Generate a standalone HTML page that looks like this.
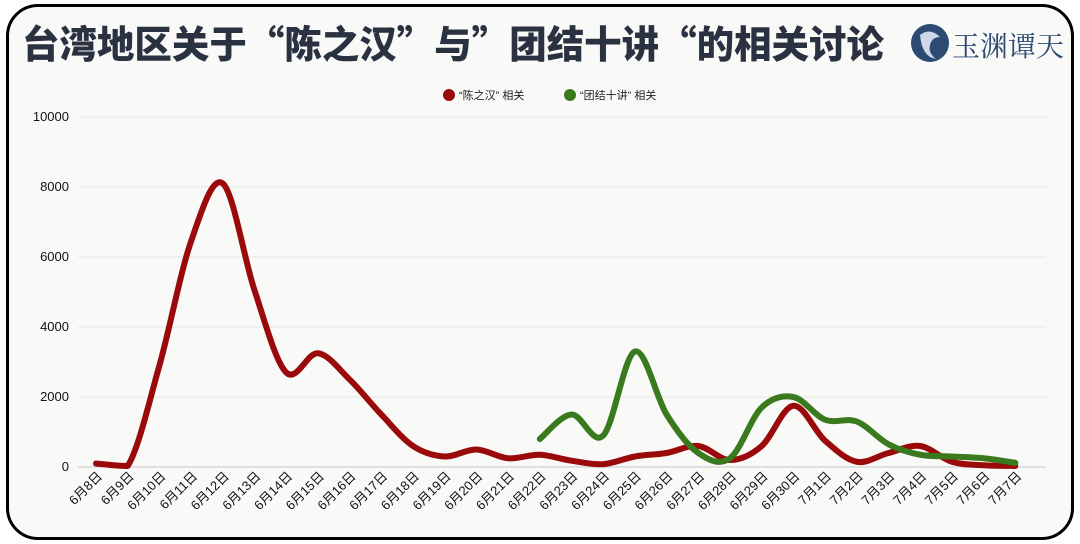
<!DOCTYPE html>
<html><head><meta charset="utf-8"><style>
html,body{margin:0;padding:0;background:#fff;}
body{width:1080px;height:544px;position:relative;overflow:hidden;font-family:"Liberation Sans","Noto Sans CJK SC",sans-serif;}
.card{position:absolute;left:6px;top:4px;width:1062px;height:530px;border:3px solid #000;border-radius:32px;background:#f9f9f7;}
</style></head><body>
<div class="card"></div>
<svg width="1080" height="544" style="position:absolute;left:0;top:0" id="s">
<text x="22" y="58" font-size="38" font-weight="900" fill="#2a3140" font-family="Noto Sans CJK SC,sans-serif" textLength="862" lengthAdjust="spacingAndGlyphs">台湾地区关于“陈之汉”与”团结十讲“的相关讨论</text>
<circle cx="930" cy="43" r="19" fill="#2d4a73"/>
<path d="M920 35 q10 -8 20 2 q-8 0 -10 8 q-2 8 6 14 q-14 -2 -16 -24z" fill="#cfd8e6"/>
<text x="952" y="56" font-size="28" fill="#2d4a73" font-family="Noto Serif CJK SC,serif">玉渊谭天</text>
<circle cx="449" cy="95" r="6" fill="#9a0a0a"/>
<text x="459" y="99" font-size="11" fill="#222">“陈之汉” 相关</text>
<circle cx="570" cy="95" r="6" fill="#3a7a1e"/>
<text x="580" y="99" font-size="11" fill="#222">“团结十讲” 相关</text>
<g id="grid"></g>
<g id="xl"></g>
<path id="red" fill="none" stroke="#9a0a0a" stroke-width="6" stroke-linecap="round" stroke-linejoin="round"/>
<path id="green" fill="none" stroke="#3a7a1e" stroke-width="6" stroke-linecap="round" stroke-linejoin="round"/>
</svg>
<script>
var NS="http://www.w3.org/2000/svg";
function el(t,a,txt,p){var e=document.createElementNS(NS,t);for(var k in a)e.setAttribute(k,a[k]);if(txt)e.textContent=txt;document.getElementById(p).appendChild(e);return e;}
function Y(v){return 467-v*0.0350;}
function X(i){return 96+i*31.7;}
for(var v=0;v<=10000;v+=2000){el("line",{x1:78,x2:1046,y1:Y(v),y2:Y(v),stroke:v==0?"#c8c8c8":"#e6e6e6","stroke-width":1},null,"grid");
el("text",{x:69,y:Y(v)+4,"text-anchor":"end","font-size":13,fill:"#111"},String(v),"grid");}
var labs=[];for(var d=8;d<=30;d++)labs.push("6月"+d+"日");for(var d=1;d<=7;d++)labs.push("7月"+d+"日");
labs.forEach(function(l,i){el("text",{x:0,y:0,"text-anchor":"end","font-size":13,fill:"#111",transform:"translate("+(X(i)+7)+",477) rotate(-45)"},l,"xl");});
var red=[100,30,2900,6450,8100,5050,2700,3250,2500,1500,600,300,500,250,350,180,80,300,400,600,200,600,1750,750,150,400,600,150,50,30];
var green=[800,1500,900,3300,1500,400,250,1700,2000,1350,1300,650,350,300,250,120];
function path(vals,off){var p=vals.map(function(v,i){return [X(i+off),Y(v)];});
var d="M"+p[0][0]+" "+p[0][1];
function cl(y){return Math.min(y,466);}
for(var i=0;i<p.length-1;i++){var p0=p[i-1]||p[i],p1=p[i],p2=p[i+1],p3=p[i+2]||p2;
var c1=[p1[0]+(p2[0]-p0[0])/6,cl(p1[1]+(p2[1]-p0[1])/6)],c2=[p2[0]-(p3[0]-p1[0])/6,cl(p2[1]-(p3[1]-p1[1])/6)];
d+=" C"+c1.join(" ")+" "+c2.join(" ")+" "+p2.join(" ");}return d;}
document.getElementById("red").setAttribute("d",path(red,0));
document.getElementById("green").setAttribute("d",path(green,14));
</script>
</body></html>
